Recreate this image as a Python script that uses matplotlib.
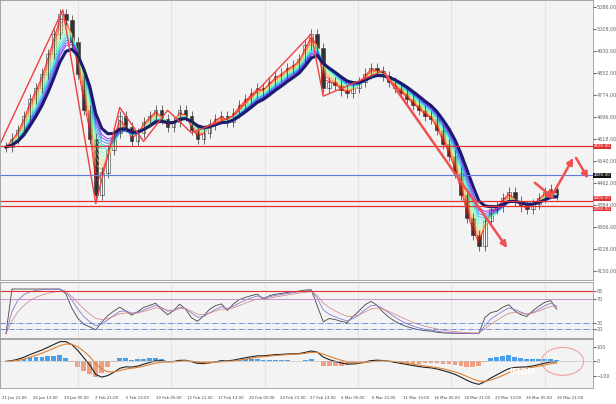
import numpy as np
import matplotlib
matplotlib.use("Agg")
import matplotlib.pyplot as plt
from matplotlib.patches import Rectangle

closes = [4590,4620,4650,4700,4760,4800,4850,4920,4990,5060,
          5040,4960,4850,4720,4620,4420,
          4500,4580,4640,4700,4660,4610,4640,4680,
          4700,4720,4690,4660,4680,4720,4700,4650,4620,4640,4670,4690,4700,4680,4710,
          4740,4760,4780,4800,4790,4820,4840,4850,4870,4880,4900,4950,4990,4940,
          4800,4820,4810,4790,4780,4800,4820,4850,4870,4860,4840,
          4820,4800,4780,4760,4740,4720,4700,4690,4650,4600,4560,4500,4420,4340,4280,4240,
          4330,4370,4380,4410,4430,4400,4380,4370,4390,4410,4430,4440,4420]
zig_x = [-1, 9.5, 15, 19, 23, 27, 31, 38, 51, 53, 63]
zig_y = [4600, 5075, 4390, 4730, 4610, 4720, 4640, 4700, 4990, 4770, 4860]
xlabels = ["21 Jan 21:00","26 Jan 13:00","29 Jan 05:00","2 Feb 21:00","5 Feb 13:00",
           "10 Feb 05:00","12 Feb 21:00","17 Feb 13:00","20 Feb 05:00","24 Feb 21:00",
           "27 Feb 13:00","4 Mar 05:00","6 Mar 21:00","11 Mar 13:00","16 Mar 05:00",
           "18 Mar 21:00","23 Mar 13:00","26 Mar 05:00","30 Mar 21:00"]
hlines_red = [4592, 4400, 4380]
hline_blue = 4490
rsi_levels = [70, 30]

c = np.array(closes, float)
n = len(c)
x = np.arange(n)
o = np.r_[c[0], c[:-1]]
hi = np.maximum(o, c) + 18
lo = np.minimum(o, c) - 18

def ema(a, p):
    out = np.empty_like(a); out[0] = a[0]; k = 2/(p+1)
    for i in range(1, len(a)): out[i] = out[i-1] + k*(a[i]-out[i-1])
    return out

fig = plt.figure(figsize=(6.16, 4.04), dpi=100)
fig.patch.set_facecolor("white")
L, R = 0.0, 0.962
ax1 = fig.add_axes([L, 0.307, R, 0.693])
ax2 = fig.add_axes([L, 0.163, R, 0.14])
ax3 = fig.add_axes([L, 0.04, R, 0.12])
for a in (ax1, ax2, ax3):
    a.set_facecolor("#f3f3f3")
    a.set_xlim(-1, 98)
    a.yaxis.tick_right()
    a.tick_params(axis="y", labelsize=3.5, length=2, pad=1, colors="#666")
    a.tick_params(axis="x", length=0)
    a.set_xticklabels([])
    for xi in np.linspace(12, 90, 6):
        a.axvline(xi, color="#dddddd", lw=0.5)
    for s in a.spines.values(): s.set_color("#999"); s.set_linewidth(0.6)

cmap = plt.get_cmap("rainbow")
for i, p in enumerate(np.linspace(1.5, 6, 12)):
    ax1.plot(x, ema(c, p), color=cmap(1 - i/11), lw=0.7, alpha=0.8)
ax1.plot(x, ema(c, 7), color="#1a1a6e", lw=2.2)
for i in range(n):
    ax1.vlines(i, lo[i], hi[i], color="#333", lw=0.5)
    ax1.add_patch(Rectangle((i-0.3, min(o[i], c[i])), 0.6, max(abs(c[i]-o[i]), 2),
                            facecolor="white" if c[i] >= o[i] else "#333", edgecolor="#333", lw=0.4))
for h in hlines_red:
    ax1.axhline(h, color="#e03030", lw=0.9)
ax1.axhline(hline_blue, color="#5a7ee0", lw=0.8)
ax1.plot(zig_x, zig_y, color="#f04040", lw=1.0)
arrows = [((63, 4860), (84, 4225)), ((88, 4470), (92, 4400)), ((91, 4410), (95, 4560)), ((95, 4560), (97.5, 4470))]
for (p0, p1) in arrows:
    ax1.annotate("", xy=p1, xytext=p0, arrowprops=dict(arrowstyle="-|>", color="#f05050", lw=1.8, mutation_scale=9))
ax1.set_ylim(4120, 5110)
ax1.set_yticks(np.arange(4150, 5110, 78))
ax1.yaxis.set_major_formatter(matplotlib.ticker.FormatStrFormatter("%.2f"))
for h, col, dy in [(hlines_red[0], "#e03030", 0), (hline_blue, "#111", 0), (hlines_red[1], "#e03030", 9), (hlines_red[2], "#e03030", -9)]:
    ax1.text(1.002, h + dy, f"{h:.2f}", transform=ax1.get_yaxis_transform(), fontsize=3.0, color="white",
             va="center", bbox=dict(boxstyle="square,pad=0.1", fc=col, ec="none"))

d = np.diff(c, prepend=c[0])
up = ema(np.clip(d, 0, None), 7); dn = ema(np.clip(-d, 0, None), 7) + 1e-9
rsi = 100 - 100/(1 + up/dn)
rsi = 50 + (rsi - 50) * 0.75
ax2.plot(x, rsi, color="#444", lw=0.6)
ax2.plot(x, ema(rsi, 3), color="#8a7ad0", lw=0.6)
ax2.plot(x, ema(rsi, 6), color="#d08080", lw=0.5)
ax2.axhline(85, color="#e03030", lw=0.8)
ax2.axhline(rsi_levels[0], color="#c080c0", lw=0.6)
ax2.axhline(rsi_levels[1], color="#5a7ee0", lw=0.6, ls="-.")
ax2.axhline(20, color="#5a7ee0", lw=0.6, ls="-.")
ax2.set_ylim(5, 100)
ax2.set_yticks([20, 30, 70, 85])

macd = ema(c, 5) - ema(c, 13)
sig = ema(macd, 4)
hist = macd - sig
ax3.bar(x, hist*1.5, color=np.where(hist >= 0, "#4aa0e8", "#f0a080"), width=0.8)
ax3.plot(x, macd, color="#222", lw=0.8)
ax3.plot(x, sig, color="#e08030", lw=0.8)
ax3.axhline(0, color="#bbb", lw=0.4)
ax3.set_ylim(-180, 150)
ax3.set_yticks([-100, 0, 100])
ax3.add_patch(matplotlib.patches.Ellipse((93, 0), 7, 190, fill=False, ec="#f0a0a0", lw=0.8))
ax3.text(84, -90, "IMGM", fontsize=6, color="white", fontweight="bold")

for i, lab in enumerate(xlabels):
    fig.text(0.004 + i*0.05, 0.012, lab, fontsize=2.8, color="#444")

fig.savefig("out.png", dpi=100)
